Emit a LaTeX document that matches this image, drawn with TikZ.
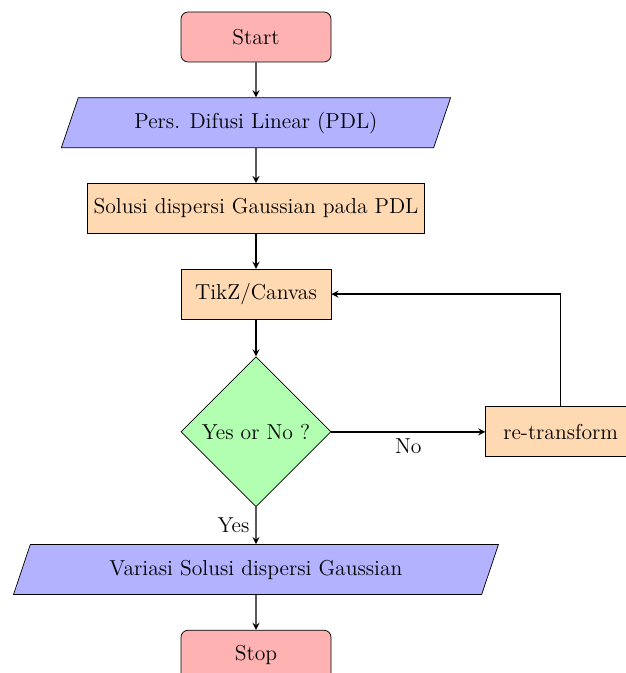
\documentclass[tikz,border=0pt]{standalone}
\usetikzlibrary{shapes.geometric,positioning}

\begin{document}
\begin{tikzpicture}[
  startstop/.style={rectangle, rounded corners, minimum width=3cm, minimum height=1cm, text centered, draw=black, fill=red!30},
  io/.style={trapezium, trapezium left angle=70, trapezium right angle=110, trapezium stretches=true, minimum width=3cm, minimum height=1cm, text centered, draw=black, fill=blue!30},
  process/.style={rectangle, minimum width=3cm, minimum height=1cm, text centered, draw=black, fill=orange!30},
  decision/.style={diamond, minimum width=3cm, minimum height=3cm, text centered, draw=black, fill=green!30},
  arrow/.style={thick, ->, >=stealth},
  node distance=0.70cm,
  font=\fontsize{12.3pt}{14.8pt}\selectfont
]
\useasboundingbox (-5.12,0.74) rectangle (7.38,-12.72);

\node[startstop] (start) at (0,0) {Start};
\node[io, below=of start, minimum width=7.8cm] (pdl) {Pers. Difusi Linear (PDL)};
\node[process, below=of pdl] (solusi) {Solusi dispersi Gaussian pada PDL};
\node[process, below=of solusi] (canvas) {TikZ/Canvas};
\node[decision, below=0.74cm of canvas] (dec) {Yes or No ?};
\node[process, right=3.08cm of dec] (retrans) {re-transform};
\node[io, below=0.74cm of dec, minimum width=9.72cm] (variasi) {Variasi Solusi dispersi Gaussian};
\node[startstop, below=of variasi] (stop) {Stop};

% Arrows
\draw[arrow] (start) -- (pdl);
\draw[arrow] (pdl) -- (solusi);
\draw[arrow] (solusi) -- (canvas);
\draw[arrow] (canvas) -- (dec);
\draw[arrow] (dec) -- node[below] {No} (retrans);
\draw[arrow] (retrans) |- (canvas);
\draw[arrow] (dec) -- node[left] {Yes} (variasi);
\draw[arrow] (variasi) -- (stop);
\end{tikzpicture}
\end{document}
